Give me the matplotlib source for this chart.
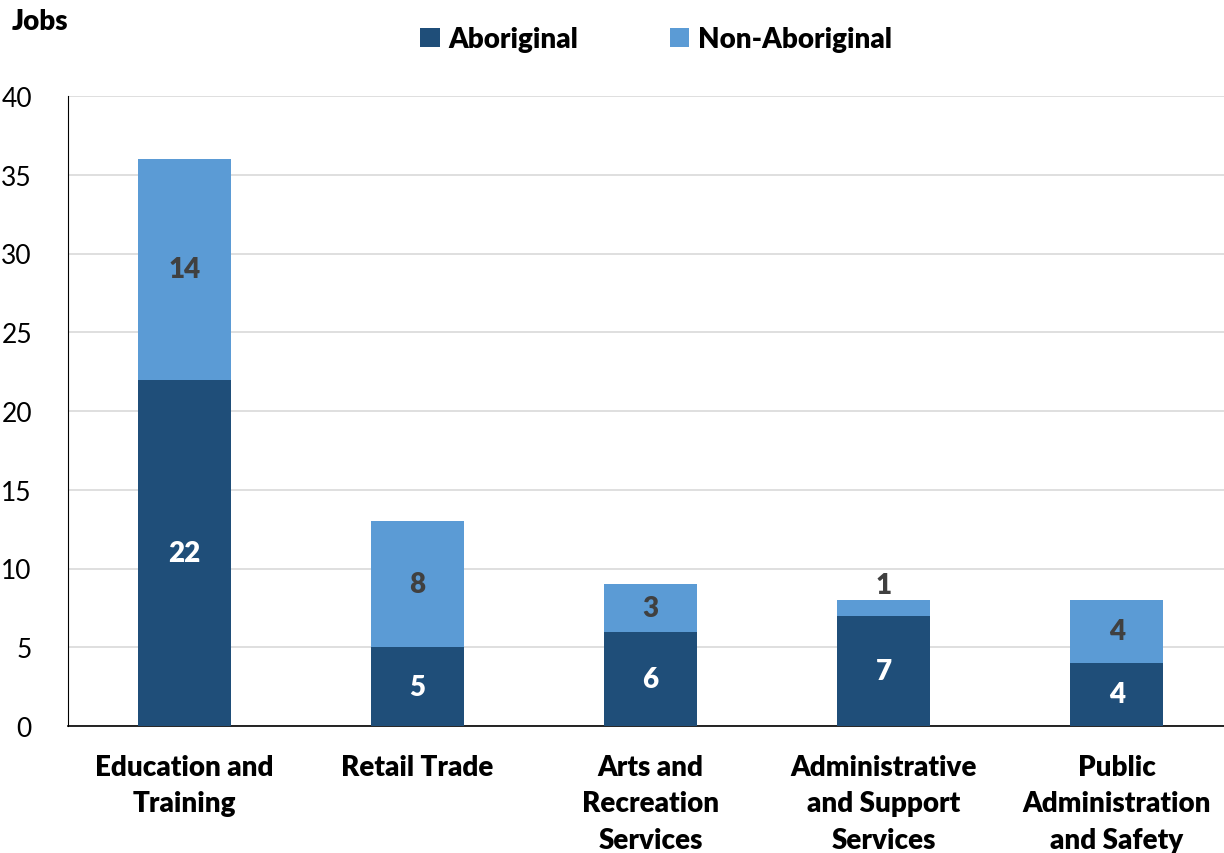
import matplotlib
matplotlib.use('agg')
import matplotlib.pyplot as plt
import numpy as np

categories = ["Education and\nTraining", "Retail Trade", "Arts and\nRecreation\nServices",
              "Administrative\nand Support\nServices", "Public\nAdministration\nand Safety"]
aboriginal = [22, 5, 6, 7, 4]
non_aboriginal = [14, 8, 3, 1, 4]

dark = '#1F4E79'
light = '#5B9BD5'
plt.rcParams['font.family'] = ['Lato', 'DejaVu Sans']

fig = plt.figure(figsize=(12.24, 8.54), dpi=100)
ax = fig.add_axes([68/1224, 1-727/854, 1-68/1224, 630/854])

x = np.arange(len(categories))
w = 0.4
ax.bar(x, aboriginal, w, color=dark, label='Aboriginal', zorder=3)
ax.bar(x, non_aboriginal, w, bottom=aboriginal, color=light, label='Non-Aboriginal', zorder=3)

for i in range(len(x)):
    ax.text(x[i], aboriginal[i]/2, str(aboriginal[i]), ha='center', va='center',
            color='white', fontsize=20, fontweight='heavy', zorder=4)
    if non_aboriginal[i] >= 2:
        ax.text(x[i], aboriginal[i] + non_aboriginal[i]/2, str(non_aboriginal[i]), ha='center',
                va='center', color='#404040', fontsize=20, fontweight='heavy', zorder=4)
    else:
        ax.text(x[i], aboriginal[i] + non_aboriginal[i] + 0.95, str(non_aboriginal[i]), ha='center',
                va='center', color='#404040', fontsize=20, fontweight='heavy', zorder=4)

ax.set_ylim(0, 40)
ax.set_xlim(-0.5, 4.46)
ax.set_yticks(range(0, 41, 5))
ax.yaxis.grid(True, color='#D9D9D9', linewidth=1.2, zorder=0)
ax.set_axisbelow(True)
ax.tick_params(axis='both', length=0)
ax.tick_params(axis='y', labelsize=19, pad=26)
ax.set_xticks(x)
ax.set_xticklabels(categories, fontsize=20, fontweight='heavy', linespacing=1.5)
ax.tick_params(axis='x', pad=20)
for s in ['top', 'right']:
    ax.spines[s].set_visible(False)
ax.spines['left'].set_color('black')
ax.spines['bottom'].set_color('black')
ax.spines['bottom'].set_linewidth(1.2)

fig.text(12/1224, 1-22/854, 'Jobs', fontsize=20, fontweight='heavy', va='center', ha='left')
ax.legend(loc='center', bbox_to_anchor=(656/1224, 1-40/854), bbox_transform=fig.transFigure,
          ncol=2, frameon=False, prop={'size': 20, 'weight': 'heavy'},
          handlelength=0.7, handleheight=0.7, handletextpad=0.3, columnspacing=3.3)

fig.savefig('out.png', dpi=100)
